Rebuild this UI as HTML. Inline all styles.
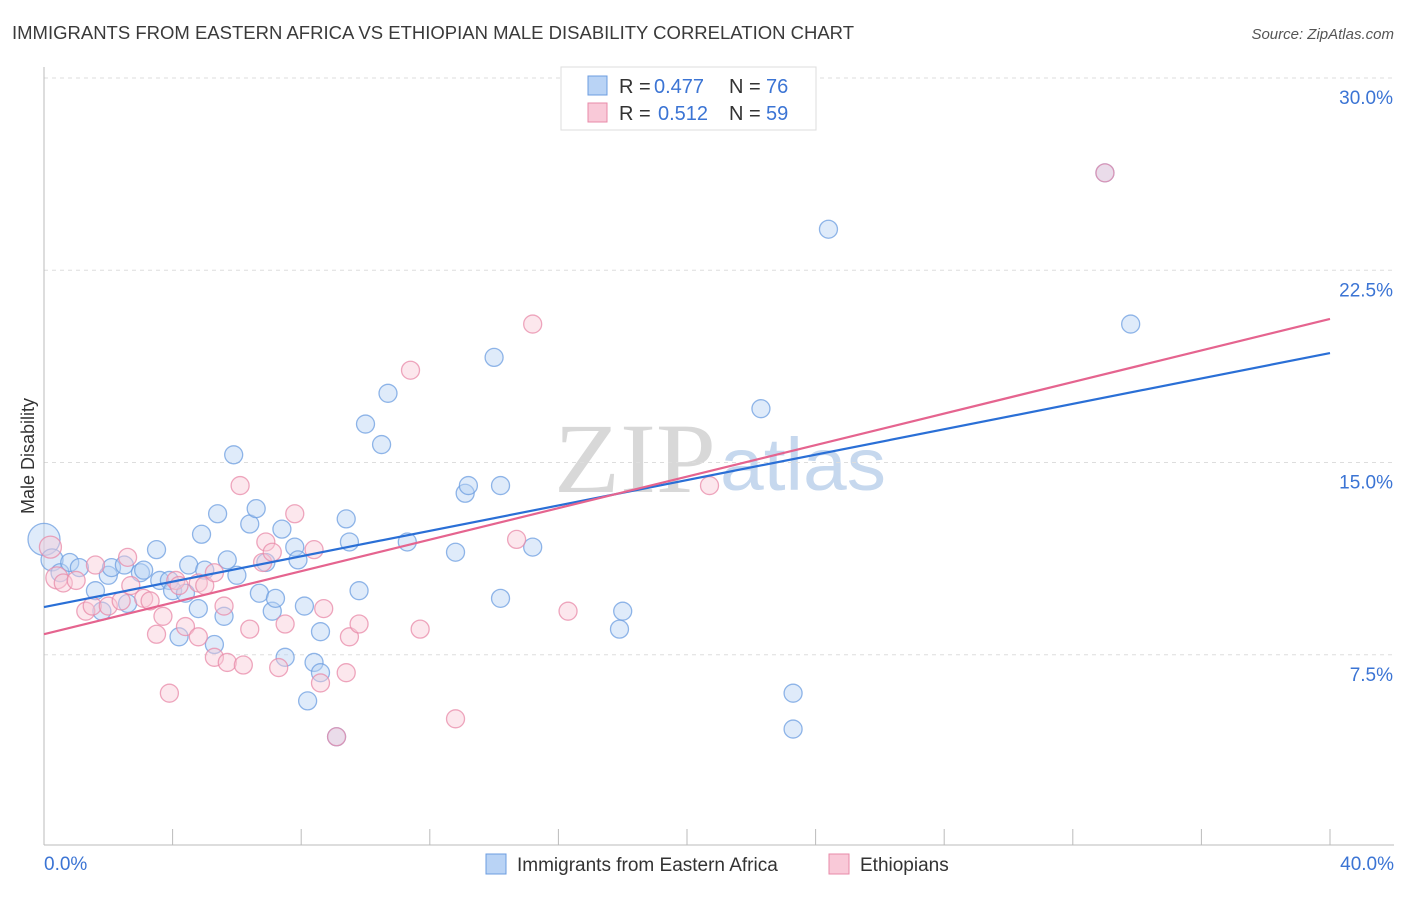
<!DOCTYPE html>
<html><head><meta charset="utf-8">
<style>
body{margin:0;background:#fff;font-family:"Liberation Sans",sans-serif;}
</style></head>
<body>
<svg id="chart" width="1406" height="892" xmlns="http://www.w3.org/2000/svg" font-family="Liberation Sans, sans-serif">
<text x="12" y="39" font-size="18" fill="#3a3a3a" textLength="842" lengthAdjust="spacingAndGlyphs">IMMIGRANTS FROM EASTERN AFRICA VS ETHIOPIAN MALE DISABILITY CORRELATION CHART</text>
<text x="1394" y="39" font-size="15" font-style="italic" fill="#555" text-anchor="end">Source: ZipAtlas.com</text>
<text transform="translate(34,456) rotate(-90)" font-size="18" fill="#333" text-anchor="middle">Male Disability</text>
<g>
<text x="554" y="492" fill="#d8d8d8" font-family="Liberation Serif, serif" font-size="100" textLength="162" lengthAdjust="spacingAndGlyphs">ZIP</text>
<text x="720" y="490" fill="#c6d8ee" font-size="74" textLength="166" lengthAdjust="spacingAndGlyphs">atlas</text>
</g>
<g id="grid"></g>
<g id="axes"></g>
<g id="points"></g>
<g id="lines"></g>
<g font-size="20">
<rect x="561" y="67" width="255" height="63" fill="#fff" stroke="#ddd"/>
<rect x="588" y="76" width="19" height="19" fill="#b9d3f5" stroke="#6c9de0"/>
<text x="619" y="93" fill="#333">R =</text><text x="654" y="93" fill="#3b74d4">0.477</text>
<text x="729" y="93" fill="#333">N =</text><text x="766" y="93" fill="#3b74d4">76</text>
<rect x="588" y="103" width="19" height="19" fill="#f9c9d8" stroke="#e88aa8"/>
<text x="619" y="120" fill="#333">R =</text><text x="658" y="120" fill="#3b74d4">0.512</text>
<text x="729" y="120" fill="#333">N =</text><text x="766" y="120" fill="#3b74d4">59</text>
</g>
<g>
<rect x="486" y="854" width="20" height="20" fill="#b9d3f5" stroke="#6c9de0"/>
<text x="517" y="871" font-size="19" fill="#333">Immigrants from Eastern Africa</text>
<rect x="829" y="854" width="20" height="20" fill="#f9c9d8" stroke="#e88aa8"/>
<text x="860" y="871" font-size="19" fill="#333">Ethiopians</text>
</g>
</svg>
<script>
const yTicks=[7.5,15,22.5,30];
const yTickLabels=["7.5%","15.0%","22.5%","30.0%"];
const xTickLabels=["0.0%","40.0%"];
const blueX=[0,0.25,0.5,0.8,1.1,1.6,1.8,2.0,2.1,2.5,2.6,3.0,3.1,3.5,3.6,3.9,4.0,4.2,4.4,4.5,4.8,4.9,5.0,5.3,5.4,5.6,5.7,5.9,6.0,6.4,6.6,6.7,6.9,7.1,7.2,7.4,7.5,7.8,7.9,8.1,8.2,8.4,8.6,8.6,9.1,9.4,9.5,9.8,10.0,10.5,10.7,11.3,12.8,13.1,13.2,14.0,14.2,14.2,15.2,17.9,18.0,22.3,23.3,23.3,24.4,33.0,33.8];
const blueY=[12.0,11.2,10.7,11.1,10.9,10.0,9.2,10.6,10.9,11.0,9.5,10.7,10.8,11.6,10.4,10.4,10.0,8.2,9.9,11.0,9.3,12.2,10.8,7.9,13.0,9.0,11.2,15.3,10.6,12.6,13.2,9.9,11.1,9.2,9.7,12.4,7.4,11.7,11.2,9.4,5.7,7.2,6.8,8.4,4.3,12.8,11.9,10.0,16.5,15.7,17.7,11.9,11.5,13.8,14.1,19.1,9.7,14.1,11.7,8.5,9.2,17.1,4.6,6.0,24.1,26.3,20.4];
const pinkX=[0.2,0.4,0.6,1.0,1.3,1.5,1.6,2.0,2.4,2.6,2.7,3.1,3.3,3.5,3.7,3.9,4.1,4.2,4.4,4.8,4.8,5.0,5.3,5.3,5.6,5.7,6.1,6.2,6.4,6.8,6.9,7.1,7.3,7.5,7.8,8.4,8.6,8.7,9.1,9.4,9.5,9.8,11.4,11.7,12.8,14.7,15.2,16.3,20.7,33.0];
const pinkY=[11.7,10.5,10.3,10.4,9.2,9.4,11.0,9.4,9.6,11.3,10.2,9.7,9.6,8.3,9.0,6.0,10.4,10.2,8.6,10.3,8.2,10.2,10.7,7.4,9.4,7.2,14.1,7.1,8.5,11.1,11.9,11.5,7.0,8.7,13.0,11.6,6.4,9.3,4.3,6.8,8.2,8.7,18.6,8.5,5.0,12.0,20.4,9.2,14.1,26.3];
const blueTrend=[9.36,19.27];
const pinkTrend=[8.3,20.6];
const NS="http://www.w3.org/2000/svg";
const X0=44,X1=1330,Ytop=78,Yb=847;
function sx(v){return X0+(X1-X0)*v/40;}
function sy(v){return Yb-(Yb-Ytop)*v/30;}
function mk(tag,attrs,parent){const e=document.createElementNS(NS,tag);for(const k in attrs)e.setAttribute(k,attrs[k]);document.getElementById(parent).appendChild(e);return e;}
yTicks.forEach((t,i)=>{
 const g=mk('line',{x1:44,x2:1394,y1:sy(t),y2:sy(t),stroke:'#ddd','stroke-dasharray':'4,4'},'grid');
 
 
 const l=mk('text',{x:1393,y:sy(t)+26,'font-size':19,fill:'#3b74d4','text-anchor':'end'},'grid');
 l.textContent=yTickLabels[i];
 
 
});
let a=mk('line',{x1:44,x2:44,y1:67,y2:845,stroke:'#bbb'},'axes');


a=mk('line',{x1:44,x2:1394,y1:845,y2:845,stroke:'#bbb'},'axes');


for(let i=1;i<=10;i++){const t=mk('line',{x1:sx(i*4),x2:sx(i*4),y1:829,y2:845,stroke:'#bbb'},'axes');
 
 }
[[0,'start',44],[40,'end',1394]].forEach((d,i)=>{const t=mk('text',{x:d[2],y:870,'font-size':19,fill:'#3b74d4','text-anchor':d[1]},'axes');t.textContent=xTickLabels[i];
 
 });
function pts(xs,ys,fill,stroke,name){xs.forEach((x,i)=>{const r=(x===0)?16:(x<0.5?11:9);
 const c=mk('circle',{cx:sx(x),cy:sy(ys[i]),r:r,fill:fill,'fill-opacity':0.45,stroke:stroke,'stroke-opacity':0.75,'stroke-width':1.3},'points');
 
 });}
pts(blueX,blueY,'#b9d3f5','#6c9de0','point-eastern-africa');
pts(pinkX,pinkY,'#f9c9d8','#e88aa8','point-ethiopians');
let ln=mk('line',{x1:sx(0),y1:sy(blueTrend[0]),x2:sx(40),y2:sy(blueTrend[1]),stroke:'#2a6fd6','stroke-width':2.2},'lines');


ln=mk('line',{x1:sx(0),y1:sy(pinkTrend[0]),x2:sx(40),y2:sy(pinkTrend[1]),stroke:'#e5648f','stroke-width':2.2},'lines');


</script>
</body></html>
